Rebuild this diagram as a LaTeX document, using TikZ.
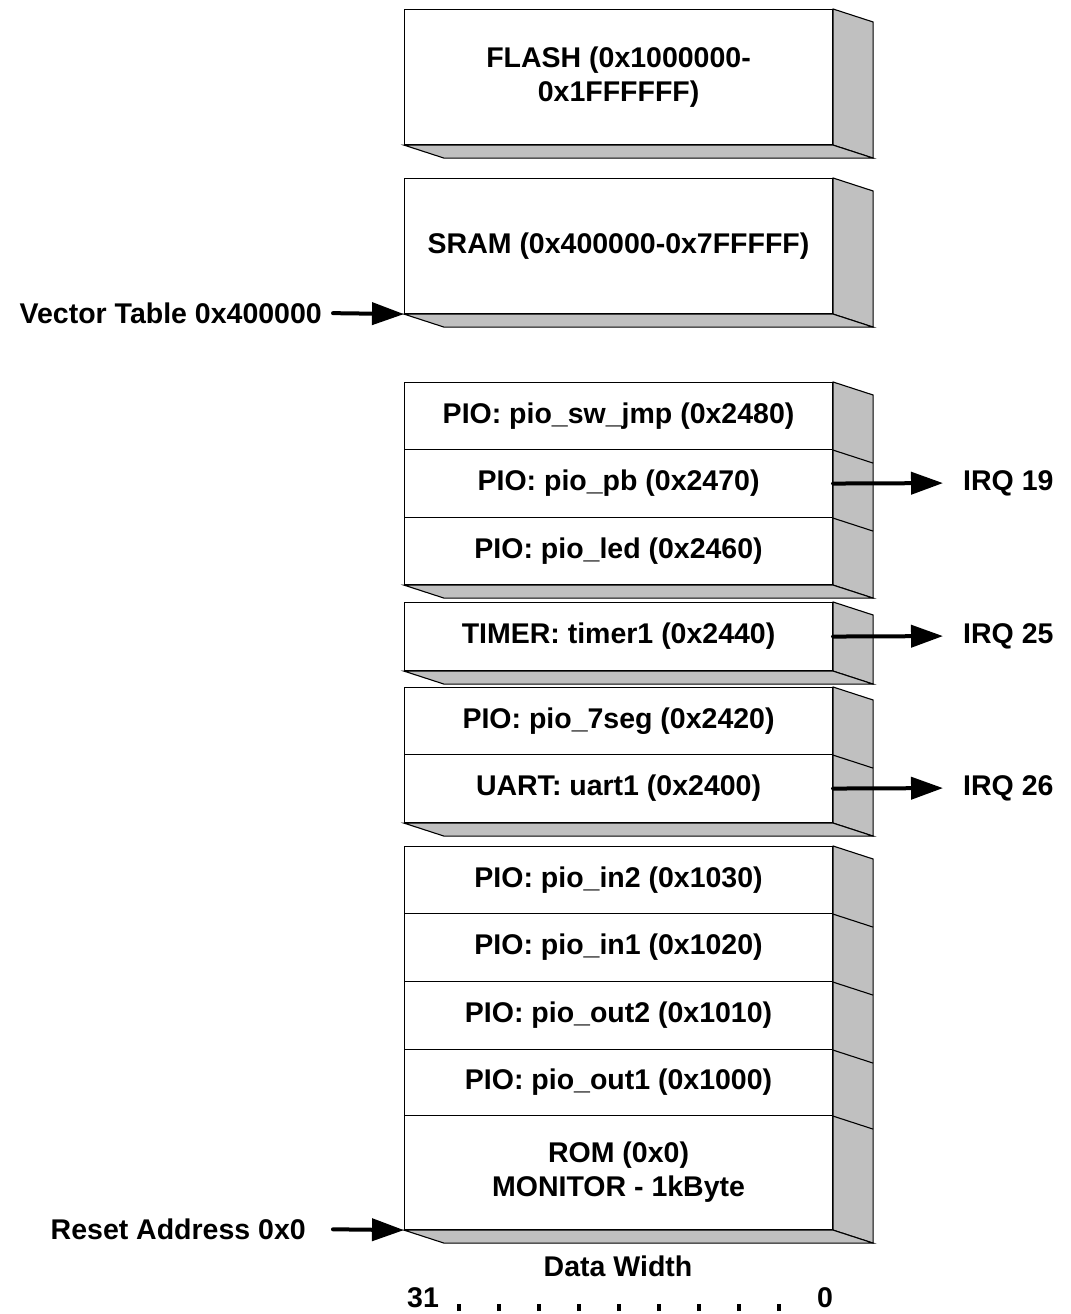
\documentclass[tikz,border=0pt]{standalone}
\usepackage{fontspec}
\setmainfont{Liberation Sans}
\usetikzlibrary{arrows.meta,calc}
\definecolor{sidegray}{RGB}{192,192,192}
\tikzset{
  row/.style={rectangle, draw=black, line width=1.1bp, fill=white, minimum width=428bp, inner sep=0pt,
    anchor=north west, align=center, font=\fontsize{28.5bp}{34bp}\selectfont\bfseries},
  lbl/.style={inner sep=0pt, font=\fontsize{28.5bp}{34bp}\selectfont\bfseries},
  face/.style={draw=black, line width=1.1bp, fill=sidegray, line join=miter},
  divline/.style={draw=black, line width=1.1bp},
  arr/.style={line width=4bp, line cap=round, -{Triangle[length=32bp,width=22bp]}},
}
\newcommand{\blockfaces}[2]{%
  \path[face] (#1.north east) -- ++(40,13) -- ([shift={(40,13)}]#2.south east) -- (#2.south east) -- cycle;
  \path[face] (#2.south west) -- ([shift={(40,13)}]#2.south west) -- ([shift={(40,13)}]#2.south east) -- (#2.south east) -- cycle;
}
\begin{document}
\begin{tikzpicture}[x=1bp, y=-1bp]
\useasboundingbox (0,0) rectangle (1070,1314);
% front faces
\node[row, minimum height=135bp] (flash) at (404,9) {FLASH (0x1000000-\\0x1FFFFFF)};
\node[row, minimum height=135bp] (sram) at (404,178) {SRAM (0x400000-0x7FFFFF)};
\node[row, minimum height=67bp] (swjmp) at (404,382) {PIO: pio\_sw\_jmp (0x2480)};
\node[row, minimum height=68bp] (pb) at (404,449) {PIO: pio\_pb (0x2470)};
\node[row, minimum height=67bp] (led) at (404,517) {PIO: pio\_led (0x2460)};
\node[row, minimum height=68bp] (timer) at (404,602) {TIMER: timer1 (0x2440)};
\node[row, minimum height=67bp] (seg) at (404,687) {PIO: pio\_7seg (0x2420)};
\node[row, minimum height=68bp] (uart) at (404,754) {UART: uart1 (0x2400)};
\node[row, minimum height=67bp] (in2) at (404,846) {PIO: pio\_in2 (0x1030)};
\node[row, minimum height=68bp] (in1) at (404,913) {PIO: pio\_in1 (0x1020)};
\node[row, minimum height=68bp] (out2) at (404,981) {PIO: pio\_out2 (0x1010)};
\node[row, minimum height=66bp] (out1) at (404,1049) {PIO: pio\_out1 (0x1000)};
\node[row, minimum height=114bp] (rom) at (404,1115) {ROM (0x0)\\MONITOR - 1kByte};
% 3D faces
\blockfaces{flash}{flash}
\blockfaces{sram}{sram}
\blockfaces{swjmp}{led}
\blockfaces{timer}{timer}
\blockfaces{seg}{uart}
\blockfaces{in2}{rom}
\foreach \n in {swjmp,pb,seg,in2,in1,out2,out1}{
  \draw[divline] (\n.south east) -- ++(40,13);
}
% labels
\node[lbl, anchor=east] (vt) at (322,313) {Vector Table 0x400000};
\node[lbl, anchor=east] (ra) at (306,1229) {Reset Address 0x0};
\node[lbl, anchor=west] (irq19) at (963,483) {IRQ 19};
\node[lbl, anchor=west] (irq25) at (963,636) {IRQ 25};
\node[lbl, anchor=west] (irq26) at (963,788) {IRQ 26};
\node[lbl, anchor=base] (dw) at (618,1276) {Data Width};
\node[lbl, anchor=base] (b31) at (423,1307) {31};
\node[lbl, anchor=base] (b0) at (825,1307) {0};
% bit scale ticks
\foreach \i in {0,...,8}{
  \fill ({457+40*\i},1304) rectangle ++(4,7);
}
% connectors
\draw[arr, shorten <=11bp] (vt.east) -- (sram.south west);
\draw[arr, shorten <=27bp] (ra.east) -- (rom.south west);
\draw[arr, shorten >=20bp] (pb.east) -- (irq19.west);
\draw[arr, shorten >=20bp] (timer.east) -- (irq25.west);
\draw[arr, shorten >=20bp] (uart.east) -- (irq26.west);
\end{tikzpicture}
\end{document}
